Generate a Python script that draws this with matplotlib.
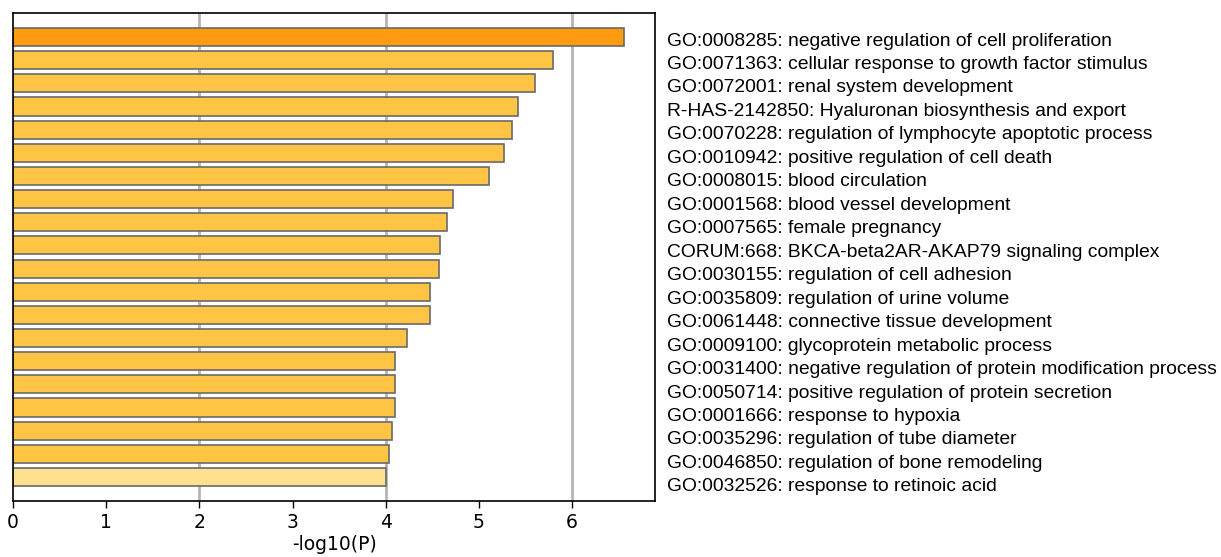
import matplotlib.pyplot as plt

terms = [
    "GO:0008285: negative regulation of cell proliferation",
    "GO:0071363: cellular response to growth factor stimulus",
    "GO:0072001: renal system development",
    "R-HAS-2142850: Hyaluronan biosynthesis and export",
    "GO:0070228: regulation of lymphocyte apoptotic process",
    "GO:0010942: positive regulation of cell death",
    "GO:0008015: blood circulation",
    "GO:0001568: blood vessel development",
    "GO:0007565: female pregnancy",
    "CORUM:668: BKCA-beta2AR-AKAP79 signaling complex",
    "GO:0030155: regulation of cell adhesion",
    "GO:0035809: regulation of urine volume",
    "GO:0061448: connective tissue development",
    "GO:0009100: glycoprotein metabolic process",
    "GO:0031400: negative regulation of protein modification process",
    "GO:0050714: positive regulation of protein secretion",
    "GO:0001666: response to hypoxia",
    "GO:0035296: regulation of tube diameter",
    "GO:0046850: regulation of bone remodeling",
    "GO:0032526: response to retinoic acid",
]
log_p = [6.56, 5.79, 5.60, 5.42, 5.36, 5.27, 5.11, 4.72, 4.66, 4.585,
         4.57, 4.47, 4.47, 4.23, 4.10, 4.10, 4.10, 4.07, 4.035, 4.0]
bar_colors = ["#FF9B10"] + ["#FFC443"] * 18 + ["#FFE08F"]

fig = plt.figure(figsize=(12.21, 5.57), dpi=100)
ax = fig.add_axes([13 / 1221, 1 - 501 / 557, 642 / 1221, 488 / 557])

ypos = list(range(len(terms)))
for g in [2, 4, 6]:
    ax.axvline(g, color="#b5b5b5", lw=2, zorder=0)
ax.barh(ypos, log_p, height=0.78, color=bar_colors, edgecolor="#6a6a6a",
        linewidth=1.2, zorder=2)

ax.set_ylim(19 + 1.04, -1.04)
ax.set_xlim(0, 6.89)
ax.set_yticks([])
ax.set_xticks(range(7))
ax.tick_params(axis="x", labelsize=13.5, length=5, width=1)
ax.set_xlabel("-log10(P)", fontsize=13.5, labelpad=2)
for s in ax.spines.values():
    s.set_linewidth(1.2)

# labels sit a touch lower than the bars and spread slightly wider
for i, t in enumerate(terms):
    ax.text(1.0 + 12 / 642, 0.17 + i * 1.0137, t,
            transform=ax.get_yaxis_transform(),
            va="center", ha="left", fontsize=13.9, family="Liberation Sans",
            clip_on=False)

fig.savefig("out.png", dpi=100)
